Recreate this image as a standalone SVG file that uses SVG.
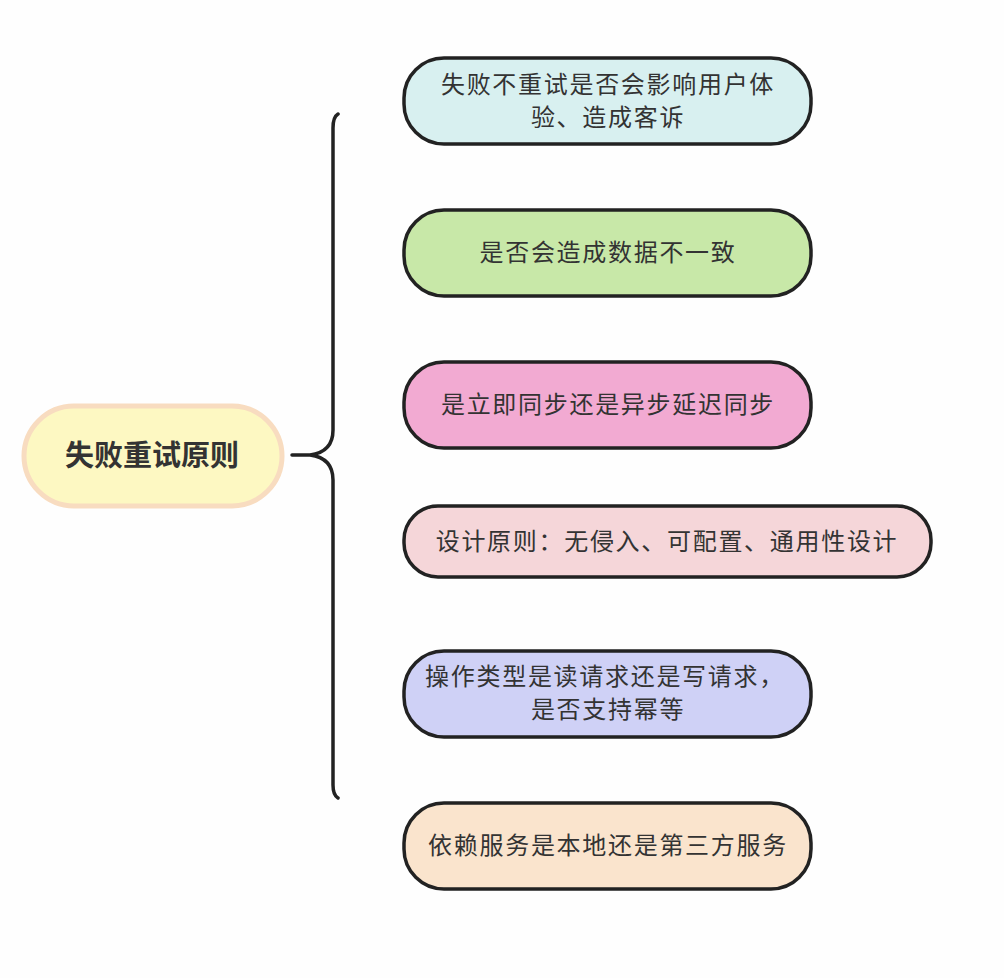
<svg xmlns="http://www.w3.org/2000/svg" width="1004" height="978" viewBox="0 0 1004 978">
<style>
.n{stroke:#222;stroke-width:3.5}
.t{font-family:"Noto Sans CJK SC","Noto Sans",sans-serif;font-size:24px;letter-spacing:1.7px;fill:#333;text-anchor:middle}
.c{font-family:"Noto Sans CJK SC","Noto Sans",sans-serif;font-size:29px;font-weight:bold;fill:#333;text-anchor:middle}
</style>
<rect width="1004" height="978" fill="#fefefe"/>
<g id="connectors">
<path d="M338,114 Q333,117 333,128 V430 Q333,452 310,455 L292,455 M310,455 Q333,458 333,480 V785 Q333,795 338,798" fill="none" stroke="#222" stroke-width="3.5" stroke-linecap="round"/>
</g>
<g id="center">
<rect x="24" y="406" width="258" height="100" rx="50" fill="#fdf8c2" stroke="#f8dcc0" stroke-width="5"/>
<text class="c" x="152" y="466">失败重试原则</text>
</g>
<g id="n1">
<rect class="n" x="404" y="58" width="407" height="86" rx="40" fill="#d8f0f0"/>
<text class="t" x="608" y="93">失败不重试是否会影响用户体</text>
<text class="t" x="608" y="126">验、造成客诉</text>
</g>
<g id="n2">
<rect class="n" x="404" y="210" width="407" height="86" rx="40" fill="#c8e8a8"/>
<text class="t" x="608" y="261">是否会造成数据不一致</text>
</g>
<g id="n3">
<rect class="n" x="404" y="362" width="407" height="86" rx="40" fill="#f2aad2"/>
<text class="t" x="608" y="413">是立即同步还是异步延迟同步</text>
</g>
<g id="n4">
<rect class="n" x="404" y="506" width="527" height="71" rx="34" fill="#f5d6d9"/>
<text class="t" x="667" y="550">设计原则：无侵入、可配置、通用性设计</text>
</g>
<g id="n5">
<rect class="n" x="404" y="651" width="407" height="86" rx="40" fill="#cfd1f6"/>
<text class="t" x="605" y="685">操作类型是读请求还是写请求，</text>
<text class="t" x="608" y="718">是否支持幂等</text>
</g>
<g id="n6">
<rect class="n" x="404" y="803" width="407" height="86" rx="40" fill="#fae4cd"/>
<text class="t" x="608" y="854">依赖服务是本地还是第三方服务</text>
</g>
</svg>
